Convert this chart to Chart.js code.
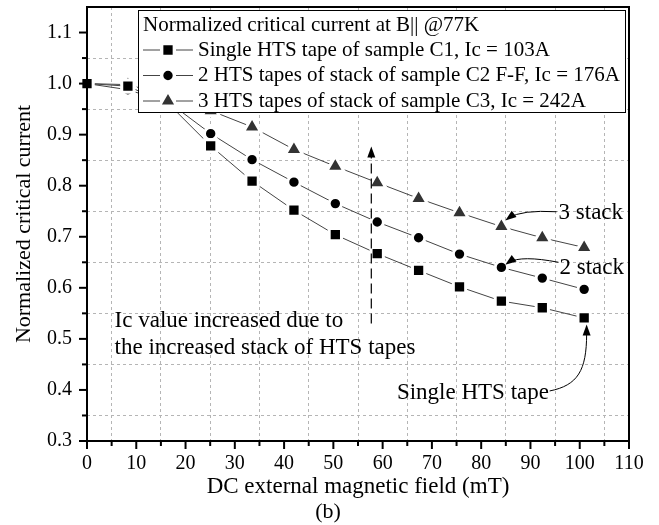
<!DOCTYPE html>
<html>
<head>
<meta charset="utf-8">
<script src="https://cdn.jsdelivr.net/npm/chart.js@4.4.1/dist/chart.umd.min.js"></script>
<style>
  body { margin: 0; background: #fff; }
</style>
</head>
<body>
<canvas id="myChart" width="659" height="525"></canvas>
<script>
// DC external field (mT), same for the three samples
var field = [0, 8.3, 16.8, 25.1, 33.5, 42.0, 50.4, 58.9, 67.3, 75.6, 84.1, 92.4, 100.9];

var singleTape = [1.0, 0.995, 0.958, 0.878, 0.809, 0.752, 0.704, 0.667, 0.634, 0.602, 0.574, 0.561, 0.541];
var twoTapes   = [1.0, 0.988, 0.962, 0.902, 0.851, 0.807, 0.765, 0.729, 0.698, 0.666, 0.640, 0.619, 0.597];
var threeTapes = [1.0, 0.998, 0.975, 0.947, 0.915, 0.871, 0.838, 0.806, 0.775, 0.747, 0.720, 0.698, 0.679];

var seriesLabels = [
  'Single HTS tape of sample C1, Ic = 103A',
  '2 HTS tapes of stack of sample C2 F-F, Ic = 176A',
  '3 HTS tapes of stack of sample C3, Ic = 242A'
];
var legendTitle = 'Normalized critical current at B|| @77K';

var xTicks = [0, 10, 20, 30, 40, 50, 60, 70, 80, 90, 100, 110];
var yTicks = [0.3, 0.4, 0.5, 0.6, 0.7, 0.8, 0.9, 1.0, 1.1];

var FONT = '"Liberation Serif", "Times New Roman", serif';
var MARKERS = [
  { style: 'rect', radius: 8.7, color: '#000' },
  { style: 'circle', radius: 6.2, color: '#000' },
  { style: 'triangle', radius: 10, color: '#333' }
];

function pts(ys) {
  return field.map(function (x, i) { return { x: x, y: ys[i] }; });
}

function makeSet(i, ys) {
  return {
    label: seriesLabels[i],
    data: pts(ys),
    borderColor: '#444',
    borderWidth: 1,
    pointStyle: MARKERS[i].style,
    pointRadius: MARKERS[i].radius,
    pointBackgroundColor: MARKERS[i].color,
    pointBorderColor: '#fff',
    pointBorderWidth: 3,
    tension: 0,
    clip: false
  };
}

function isMinor(v, step) {
  return Math.round(v / step) % 2 !== 0;
}

// frame, ticks, legend box, notes and arrows
var extras = {
  id: 'extras',
  afterDatasetsDraw: function (chart) {
    var ctx = chart.ctx, a = chart.chartArea;
    var xs = chart.scales.x, ys = chart.scales.y;
    var px = function (v) { return xs.getPixelForValue(v); };
    var py = function (v) { return ys.getPixelForValue(v); };
    ctx.save();

    // tick marks, outward
    ctx.strokeStyle = '#000';
    ctx.lineWidth = 2;
    for (var v = 0; v <= 110; v += 5) {
      var len = v % 10 === 0 ? 8 : 5;
      ctx.beginPath();
      ctx.moveTo(px(v), a.bottom);
      ctx.lineTo(px(v), a.bottom + len);
      ctx.stroke();
    }
    for (var k = 6; k <= 22; k++) {
      var yv = k * 0.05;
      var l2 = k % 2 === 0 ? 8 : 5;
      ctx.beginPath();
      ctx.moveTo(a.left, py(yv));
      ctx.lineTo(a.left - l2, py(yv));
      ctx.stroke();
    }
    ctx.strokeRect(a.left, a.top, a.right - a.left, a.bottom - a.top);

    // dashed arrow
    ctx.lineWidth = 1.2;
    ctx.setLineDash([10, 5]);
    ctx.beginPath();
    ctx.moveTo(px(57.7), py(0.53));
    ctx.lineTo(px(57.7), py(0.865));
    ctx.stroke();
    ctx.setLineDash([]);
    arrowHead(ctx, px(57.7), py(0.877), 0, -1);

    // curved arrows
    ctx.lineWidth = 1;
    ctx.beginPath();
    ctx.moveTo(px(95.3), py(0.749));
    ctx.quadraticCurveTo(px(88.2), py(0.753), px(85.6), py(0.737));
    ctx.stroke();
    arrowHead(ctx, px(84.9), py(0.732), -0.8, 0.6);

    ctx.beginPath();
    ctx.moveTo(px(95.7), py(0.650));
    ctx.quadraticCurveTo(px(88.2), py(0.664), px(85.6), py(0.650));
    ctx.stroke();
    arrowHead(ctx, px(84.9), py(0.645), -0.8, 0.6);

    ctx.beginPath();
    ctx.moveTo(px(93.9), py(0.398));
    ctx.bezierCurveTo(px(99.6), py(0.409), px(101.4), py(0.438), px(101.4), py(0.51));
    ctx.stroke();
    arrowHead(ctx, px(101.4), py(0.528), 0, -1);

    // notes
    ctx.fillStyle = '#000';
    ctx.font = '23px ' + FONT;
    ctx.textBaseline = 'middle';
    ctx.textAlign = 'left';
    ctx.fillText('Ic value increased due to', px(5.6), py(0.536));
    ctx.fillText('the increased stack of HTS tapes', px(5.6), py(0.483));
    ctx.fillText('3 stack', px(95.7), py(0.746));
    ctx.fillText('2 stack', px(95.9), py(0.638));
    ctx.fillText('Single HTS tape', px(62.9), py(0.395));

    // legend box
    var lx = 138, ly = 10, lw = 487, lh = 102;
    ctx.fillStyle = '#fff';
    ctx.fillRect(lx, ly, lw, lh);
    ctx.strokeStyle = '#000';
    ctx.lineWidth = 1;
    ctx.strokeRect(lx + 0.5, ly + 0.5, lw, lh);
    ctx.fillStyle = '#000';
    ctx.font = '21px ' + FONT;
    ctx.fillText(legendTitle, lx + 5, ly + 15);
    for (var i = 0; i < 3; i++) {
      var ry = ly + 40 + i * 25.5;
      ctx.strokeStyle = '#444';
      ctx.beginPath();
      ctx.moveTo(lx + 5, ry); ctx.lineTo(lx + 22, ry);
      ctx.moveTo(lx + 38, ry); ctx.lineTo(lx + 55, ry);
      ctx.stroke();
      ctx.fillStyle = MARKERS[i].color;
      ctx.strokeStyle = '#fff';
      ctx.lineWidth = 3;
      Chart.helpers.drawPoint(ctx, { pointStyle: MARKERS[i].style, radius: MARKERS[i].radius, borderWidth: 3, rotation: 0 }, lx + 30, ry);
      ctx.lineWidth = 1;
      ctx.fillStyle = '#000';
      ctx.fillText(seriesLabels[i], lx + 60, ry);
    }

    // axis titles
    ctx.textAlign = 'center';
    ctx.font = '23px ' + FONT;
    ctx.fillText('DC external magnetic field (mT)', 358, 487);
    ctx.font = '22px ' + FONT;
    ctx.fillText('(b)', 328, 512);
    ctx.translate(24, 224);
    ctx.rotate(-Math.PI / 2);
    ctx.fillText('Normalized critical current', 0, 0);
    ctx.restore();
  }
};

function arrowHead(ctx, x, y, dx, dy) {
  var len = 11, half = 4;
  var nx = -dy, ny = dx;
  ctx.save();
  ctx.fillStyle = '#000';
  ctx.beginPath();
  ctx.moveTo(x, y);
  ctx.lineTo(x - dx * len + nx * half, y - dy * len + ny * half);
  ctx.lineTo(x - dx * len - nx * half, y - dy * len - ny * half);
  ctx.closePath();
  ctx.fill();
  ctx.restore();
}

new Chart('myChart', {
  type: 'line',
  data: {
    datasets: [makeSet(0, singleTape), makeSet(1, twoTapes), makeSet(2, threeTapes)]
  },
  options: {
    responsive: false,
    animation: false,
    devicePixelRatio: 1,
    layout: { autoPadding: false, padding: { top: 7, right: 30, left: 0, bottom: 0 } },
    plugins: { legend: { display: false }, tooltip: { enabled: false } },
    scales: {
      x: {
        type: 'linear',
        min: 0,
        max: 110,
        afterFit: function (s) { s.height = 84; s.paddingLeft = 0; s.paddingRight = 0; },
        ticks: {
          stepSize: 5,
          autoSkip: false,
          maxRotation: 0,
          padding: 11,
          color: '#000',
          font: { family: FONT, size: 20 },
          callback: function (v) { return xTicks.indexOf(v) >= 0 ? String(v) : ''; }
        },
        grid: {
          drawTicks: false,
          lineWidth: 1,
          color: function (c) { return c.tick && isMinor(c.tick.value, 5) ? '#b5b5b5' : 'rgba(0,0,0,0)'; }
        },
        border: { display: false, dash: [3, 3] }
      },
      y: {
        min: 0.3,
        max: 1.15,
        afterFit: function (s) { s.width = 87; s.paddingTop = 0; s.paddingBottom = 0; },
        ticks: {
          stepSize: 0.05,
          autoSkip: false,
          padding: 15,
          color: '#000',
          font: { family: FONT, size: 20 },
          callback: function (v) {
            var r = Math.round(v * 10) / 10;
            return (Math.abs(r - v) < 1e-6 && yTicks.indexOf(r) >= 0) ? r.toFixed(1) : '';
          }
        },
        grid: {
          drawTicks: false,
          lineWidth: 1,
          color: function (c) { return c.tick && isMinor(c.tick.value, 0.05) ? '#b5b5b5' : 'rgba(0,0,0,0)'; }
        },
        border: { display: false, dash: [3, 3] }
      }
    }
  },
  plugins: [extras]
});
</script>
</body>
</html>
